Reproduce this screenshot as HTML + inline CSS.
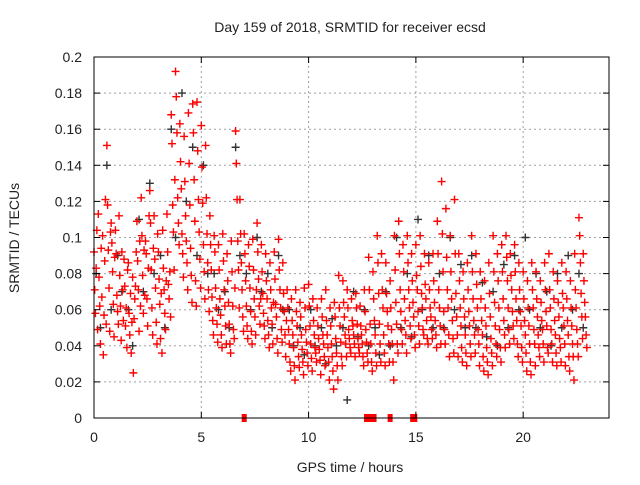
<!DOCTYPE html>
<html><head><meta charset="utf-8"><style>
body{margin:0;background:#fff}
svg text{font-family:"Liberation Sans",sans-serif;fill:#222}
</style></head><body>
<svg id="chart" width="640" height="480" viewBox="0 0 640 480" xmlns="http://www.w3.org/2000/svg">
<rect width="640" height="480" fill="#fff"/>
<text x="350" y="32" font-size="14" text-anchor="middle">Day 159 of 2018, SRMTID for receiver ecsd</text>
<text x="350" y="472" font-size="14" text-anchor="middle">GPS time / hours</text>
<text x="0" y="0" font-size="14" text-anchor="middle" transform="translate(19,238) rotate(-90)">SRMTID / TECUs</text>
<g id="grid"></g><g id="black"></g><g id="red"></g><g id="axes"></g>
</svg>
<script>
const xTicks=[0,5,10,15,20];
const yTicks=[0,0.02,0.04,0.06,0.08,0.1,0.12,0.14,0.16,0.18,0.2];
const yTickLabels=["0","0.02","0.04","0.06","0.08","0.1","0.12","0.14","0.16","0.18","0.2"];
const redStart=0, redStep=0.2;
const redVals=[
[.092,.071,.058,.083,.104,.049],[.113,.078,.062,.041,.094,.067],[.101,.035,.057,.087,.121,.052],[.151,.118,.093,.072,.048,.103],
[.108,.097,.081,.063,.045,.089],[.104,.091,.068,.059,.052,.112],[.079,.062,.043,.092,.071,.054],[.088,.073,.051,.061,.039,.082],
[.086,.058,.046,.069,.036,.053],[.078,.025,.055,.066,.073,.092],[.109,.087,.071,.048,.098,.062],[.122,.101,.079,.058,.093,.068],
[.098,.091,.066,.051,.083,.112],[.126,.108,.082,.061,.046,.094],[.112,.088,.072,.053,.041,.102],[.092,.077,.063,.044,.069,.036],
[.104,.083,.071,.058,.049,.076],[.113,.092,.074,.066,.081,.056],[.168,.152,.118,.103,.082,.132],[.192,.178,.158,.122,.108,.096],
[.163,.142,.127,.102,.091,.078],[.156,.131,.112,.098,.086,.071],[.169,.141,.118,.094,.079,.064],[.174,.158,.132,.109,.076,.062],
[.175,.148,.121,.103,.088,.072],[.162,.139,.119,.096,.081,.066],[.151,.122,.102,.086,.071,.059],[.112,.096,.082,.067,.054,.046],
[.101,.092,.072,.061,.052,.042],[.096,.082,.066,.057,.046,.039],[.102,.087,.071,.062,.051,.041],[.091,.076,.064,.052,.041,.036],
[.098,.081,.062,.049,.044,.072],[.159,.141,.121,.098,.082,.061],[.121,.102,.086,.071,.056,.048],[.102,.091,.076,.062,.051,.044],
[.096,.084,.072,.059,.048,.041],[.099,.082,.066,.056,.046,.071],[.108,.092,.077,.062,.052,.066],[.096,.081,.069,.058,.051,.044],
[.091,.076,.066,.054,.046,.039],[.086,.071,.061,.052,.041,.064],[.092,.077,.063,.056,.044,.036],[.099,.082,.071,.061,.049,.042],
[.086,.069,.059,.046,.034,.054],[.071,.061,.049,.041,.031,.026],[.066,.054,.046,.039,.029,.021],[.071,.059,.051,.042,.034,.028],
[.064,.056,.046,.038,.031,.024],[.072,.061,.049,.042,.036,.029],[.074,.062,.051,.041,.033,.026],[.066,.054,.046,.039,.036,.031],
[.061,.051,.044,.038,.032,.024],[.066,.056,.046,.041,.034,.029],[.071,.054,.046,.039,.031,.021],[.061,.051,.041,.034,.026,.016],
[.064,.056,.044,.036,.029,.021],[.079,.061,.051,.042,.034,.029],[.076,.064,.056,.046,.041,.034],[.071,.061,.049,.044,.039,.036],
[.066,.054,.051,.046,.041,.034],[.069,.061,.052,.044,.039,.036],[.062,.051,.046,.041,.034,.029],[.071,.059,.049,.042,.036,.031],
[.089,.071,.052,.041,.031,.026],[.081,.066,.054,.046,.036,.029],[.101,.086,.069,.052,.041,.031],[.091,.071,.061,.046,.036,.029],
[.086,.069,.059,.051,.041,.031],[.076,.061,.049,.041,.031,.021],[.101,.082,.064,.052,.041,.036],[.109,.091,.071,.059,.049,.041],
[.096,.081,.066,.054,.046,.036],[.101,.086,.071,.061,.051,.044],[.091,.076,.064,.056,.046,.039],[.096,.079,.071,.059,.051,.041],
[.101,.084,.069,.061,.049,.046],[.091,.074,.066,.054,.044,.041],[.086,.071,.061,.056,.049,.044],[.091,.076,.064,.054,.046,.039],
[.109,.091,.071,.061,.051,.041],[.131,.102,.081,.059,.049,.041],[.116,.089,.071,.061,.046,.034],[.101,.081,.066,.054,.044,.036],
[.121,.091,.069,.056,.046,.034],[.091,.076,.061,.051,.039,.031],[.081,.066,.056,.046,.036,.029],[.086,.071,.059,.051,.041,.034],
[.101,.081,.066,.054,.046,.036],[.091,.074,.061,.049,.041,.029],[.081,.066,.054,.046,.034,.026],[.076,.061,.051,.039,.031,.024],
[.086,.069,.056,.044,.036,.029],[.101,.081,.064,.051,.041,.034],[.091,.076,.061,.049,.039,.031],[.096,.081,.066,.054,.046,.039],
[.101,.089,.076,.061,.049,.041],[.091,.079,.071,.059,.051,.044],[.096,.081,.066,.054,.041,.034],[.086,.071,.059,.051,.039,.031],
[.081,.066,.054,.046,.036,.026],[.076,.061,.051,.041,.031,.024],[.086,.071,.061,.049,.041,.029],[.081,.066,.056,.046,.039,.034],
[.076,.064,.054,.049,.041,.031],[.086,.071,.059,.051,.039,.036],[.091,.071,.061,.049,.041,.031],[.081,.066,.054,.046,.036,.029],
[.076,.064,.056,.044,.039,.031],[.086,.069,.061,.051,.041,.029],[.081,.066,.054,.046,.034,.026],[.076,.061,.051,.041,.034,.021],
[.091,.071,.061,.049,.041,.034],[.111,.101,.086,.069,.056,.044],[.091,.076,.064,.056,.046,.039]
];
const blackStart=0.1, blackStep=0.5;
const blackVals=[
[.08,.05],[.14,.06],[.09,.07],[.06,.04],[.11,.07],[.13,.08],[.09,.05],[.16,.10],[.18,.12],[.15,.09],
[.14,.08],[.08,.06],[.07,.05],[.15,.09],[.08,.06],[.10,.07],[.08,.05],[.09,.06],[.06,.04],[.05,.035],
[.06,.04],[.05,.03],[.055,.04],[.05,.01],[.07,.045],[.06,.04],[.05,.035],[.07,.04],[.10,.05],[.08,.045],
[.11,.06],[.09,.05],[.08,.05],[.10,.06],[.085,.05],[.09,.05],[.075,.045],[.07,.04],[.085,.05],[.09,.06],
[.10,.06],[.08,.05],[.07,.04],[.08,.05],[.09,.06],[.08,.05]
];
const zeroTimes=[7.0,12.7,12.9,13.05,13.8,14.85,14.95];

const X0=94,X1=609,Y0=418,Y1=57,XMAX=24,YMAX=0.2;
const sx=t=>X0+(X1-X0)*t/XMAX;
const sy=v=>Y0-(Y0-Y1)*v/YMAX;
const NS='http://www.w3.org/2000/svg';
function mk(tag,attrs,parent){const e=document.createElementNS(NS,tag);for(const k in attrs)e.setAttribute(k,attrs[k]);parent.appendChild(e);return e;}
const grid=document.getElementById('grid'),axes=document.getElementById('axes');
yTicks.forEach((v,i)=>{
  const y=sy(v);
  if(v>0&&v<YMAX){const g=mk('line',{x1:X0,x2:X1,y1:y,y2:y,stroke:'#a0a0a0','stroke-dasharray':'2,3','stroke-width':1},grid);
  
  }
  mk('line',{x1:X0,x2:X0+6,y1:y,y2:y,stroke:'#000'},axes);
  mk('line',{x1:X1,x2:X1-6,y1:y,y2:y,stroke:'#000'},axes);
  const t=mk('text',{x:82,y:y+5,'font-size':14,'text-anchor':'end'},axes);
  t.textContent=yTickLabels[i];
  
  
});
xTicks.forEach(v=>{
  const x=sx(v);
  if(v>0){const g=mk('line',{x1:x,x2:x,y1:Y0,y2:Y1,stroke:'#a0a0a0','stroke-dasharray':'2,3','stroke-width':1},grid);
  
  }
  mk('line',{x1:x,x2:x,y1:Y0,y2:Y0-6,stroke:'#000'},axes);
  mk('line',{x1:x,x2:x,y1:Y1,y2:Y1+6,stroke:'#000'},axes);
  const t=mk('text',{x:x,y:442,'font-size':14,'text-anchor':'middle'},axes);
  t.textContent=String(v);
  
  
});
const frame=mk('rect',{x:X0,y:Y1,width:X1-X0,height:Y0-Y1,fill:'none',stroke:'#000','stroke-width':1},axes);


function plus(x,y,color,parent){
  const p=mk('path',{d:`M${x-4},${y}h8M${x},${y-4}v8`,stroke:color,'stroke-width':1.4,fill:'none'},parent);
  
  
}
const redG=document.getElementById('red'),blackG=document.getElementById('black');




blackVals.forEach((row,i)=>row.forEach((v,k)=>plus(sx(blackStart+i*blackStep+k*0.2),sy(v),'#333',blackG)));
redVals.forEach((row,i)=>row.forEach((v,k)=>plus(sx(redStart+i*redStep+k*redStep/row.length),sy(v),'#f00',redG)));
zeroTimes.forEach(t=>{
  const r=mk('rect',{x:sx(t)-2.5,y:sy(0)-4,width:5,height:8,fill:'#f00'},redG);
  
  
});
</script>
</body></html>
